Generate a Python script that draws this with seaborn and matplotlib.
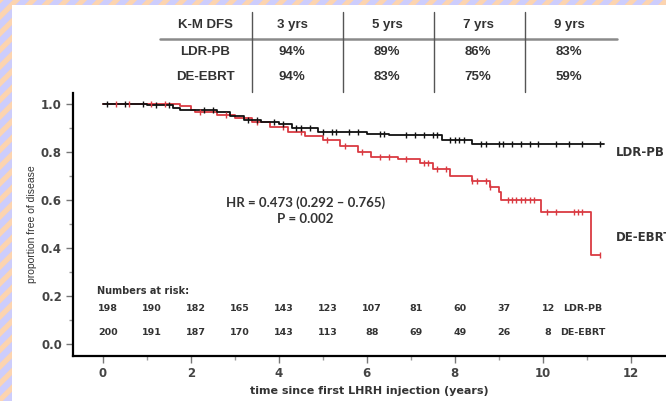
import numpy as np
import pandas as pd
import matplotlib
matplotlib.use("Agg")
import matplotlib.pyplot as plt
import seaborn as sns
from matplotlib.patches import Rectangle
from matplotlib.lines import Line2D
from matplotlib.ticker import MultipleLocator

# K-M step points (time in years, proportion free of disease)
ldr_t = [0, 1.0, 1.6, 1.75, 2.6, 2.9, 3.2, 3.6, 4.0, 4.3, 4.9, 6.0, 6.5, 7.7, 8.4, 11.4]
ldr_s = [1.0, 0.995, 0.985, 0.975, 0.965, 0.95, 0.935, 0.925, 0.915, 0.90, 0.885, 0.875, 0.87, 0.85, 0.835, 0.835]
ebrt_t = [0, 1.75, 2.0, 2.1, 2.6, 3.0, 3.4, 3.8, 4.2, 4.6, 5.0, 5.4, 5.8, 6.1, 6.7, 7.2, 7.5,
          7.9, 8.4, 8.8, 9.0, 9.05, 9.95, 11.1, 11.3]
ebrt_s = [1.0, 0.99, 0.975, 0.965, 0.955, 0.94, 0.925, 0.905, 0.885, 0.865, 0.85, 0.825, 0.80,
          0.78, 0.77, 0.755, 0.73, 0.70, 0.68, 0.655, 0.635, 0.60, 0.55, 0.37, 0.37]

# censoring marks
ldr_cens = [0.1, 0.5, 0.9, 1.2, 1.5, 2.3, 2.5, 3.3, 3.5, 3.9, 4.1, 4.4, 4.5, 4.7, 5.0, 5.2, 5.3,
            5.6, 5.8, 6.3, 6.4, 6.9, 7.1, 7.3, 7.5, 7.6, 7.9, 8.0, 8.1, 8.2, 8.6, 8.7, 9.0, 9.1,
            9.3, 9.5, 9.7, 9.9, 10.3, 10.6, 10.9, 11.3]
ebrt_cens = [0.3, 0.6, 1.1, 1.4, 2.2, 2.8, 3.5, 4.1, 4.5, 5.1, 5.5, 5.9, 6.3, 6.5, 6.9, 7.3, 7.4,
             7.6, 7.8, 8.4, 8.5, 8.7, 8.8, 9.2, 9.3, 9.4, 9.5, 9.6, 9.7, 9.8, 10.1, 10.3, 10.7,
             10.8, 10.9, 11.3]

# numbers at risk
risk_years = list(range(11))
risk_ldr = [198, 190, 182, 165, 143, 123, 107, 81, 60, 37, 12]
risk_ebrt = [200, 191, 187, 170, 143, 113, 88, 69, 49, 26, 8]

# K-M DFS table
tbl_cols = ["K-M DFS", "3 yrs", "5 yrs", "7 yrs", "9 yrs"]
tbl_ldr = ["LDR-PB", "94%", "89%", "86%", "83%"]
tbl_ebrt = ["DE-EBRT", "94%", "83%", "75%", "59%"]

W, H = 666, 401
plt.rcParams["hatch.linewidth"] = 3.8
sns.set_theme(style="ticks")
plt.rcParams["font.family"] = ["DejaVu Sans"]

fig = plt.figure(figsize=(W / 100, H / 100), dpi=100)
# striped frame + white panel
fig.add_artist(Rectangle((0, 0), 1, 1, transform=fig.transFigure, facecolor="#cdcdfc",
                         edgecolor="#fcd4b0", hatch="//", lw=0, zorder=-10))
fig.add_artist(Rectangle((12 / W, 0), 1, 1 - 5 / H, transform=fig.transFigure,
                         facecolor="white", lw=0, zorder=-9))

def px(x, y):
    return x / W, 1 - y / H

ax = fig.add_axes([73 / W, 45 / H, 1 - 73 / W, (356 - 93) / H])
ax.set_facecolor("none")

def step_at(ts, ss, times):
    idx = np.searchsorted(ts, times, side="right") - 1
    return np.asarray(ss)[idx]

curves = pd.concat([
    pd.DataFrame({"t": ebrt_t, "s": ebrt_s, "arm": "DE-EBRT"}),
    pd.DataFrame({"t": ldr_t, "s": ldr_s, "arm": "LDR-PB"}),
])
cens = pd.concat([
    pd.DataFrame({"t": ebrt_cens, "s": step_at(ebrt_t, ebrt_s, ebrt_cens), "arm": "DE-EBRT"}),
    pd.DataFrame({"t": ldr_cens, "s": step_at(ldr_t, ldr_s, ldr_cens), "arm": "LDR-PB"}),
])
pal = {"DE-EBRT": "#da3a42", "LDR-PB": "#111111"}

sns.lineplot(data=curves, x="t", y="s", hue="arm", palette=pal, drawstyle="steps-post",
             lw=1.3, legend=False, ax=ax, estimator=None)
for arm, d in cens.groupby("arm", sort=False):
    ax.plot(d["t"], d["s"], ls="none", marker="|", ms=5, mew=1.0, color=pal[arm])

ax.set_xlim(-0.68, 12.8)
ax.set_ylim(-0.05, 1.046)
ax.set_xticks(range(0, 13, 2))
ax.set_yticks(np.arange(0, 1.01, 0.2))
ax.set_yticklabels([f"{v:.1f}" for v in np.arange(0, 1.01, 0.2)])
ax.xaxis.set_minor_locator(MultipleLocator(1))
ax.yaxis.set_minor_locator(MultipleLocator(0.1))
ax.tick_params(which="major", length=5, width=1, color="#777", labelsize=8.5, labelcolor="#444", pad=3)
ax.tick_params(which="minor", length=3, width=1, color="#999")
for lbl in ax.get_xticklabels() + ax.get_yticklabels():
    lbl.set_fontweight("bold")
sns.despine(ax=ax)
for s in ["left", "bottom"]:
    ax.spines[s].set_linewidth(1.6)
    ax.spines[s].set_color("black")

ax.set_xlabel("time since first LHRH injection (years)", fontsize=8, fontweight="bold",
              color="#333", labelpad=4)
ax.set_ylabel("proportion free of disease", fontsize=7.5, color="#333", labelpad=3,
              family="Liberation Sans")

# curve labels (the DE-EBRT one runs off the right edge, as in the source image)
ax.text(11.65, 0.80, "LDR-PB", fontsize=8.5, fontweight="bold", color="#333", va="center", clip_on=False)
ax.text(11.65, 0.445, "DE-EBRT", fontsize=8.5, fontweight="bold", color="#333", va="center", clip_on=False)

# hazard ratio
ax.text(4.6, 0.59, "HR = 0.473 (0.292 \u2013 0.765)", fontsize=9.5, fontweight="bold",
        color="#333", ha="center", va="center", family="Lato")
ax.text(4.6, 0.522, "P = 0.002", fontsize=9.5, fontweight="bold", color="#333",
        ha="center", va="center", family="Lato")

# numbers at risk
ax.text(-0.14, 0.22, "Numbers at risk:", fontsize=7, fontweight="bold", color="#333", va="center")
for yr, a, b in zip(risk_years, risk_ldr, risk_ebrt):
    ax.text(yr + 0.12, 0.146, str(a), fontsize=6.8, fontweight="bold", color="#333", ha="center", va="center")
    ax.text(yr + 0.12, 0.046, str(b), fontsize=6.8, fontweight="bold", color="#333", ha="center", va="center")
ax.text(10.9, 0.146, "LDR-PB", fontsize=6.8, fontweight="bold", color="#333", ha="center", va="center")
ax.text(10.9, 0.046, "DE-EBRT", fontsize=6.8, fontweight="bold", color="#333", ha="center", va="center")

# table on top
col_x = [205, 292, 387, 478, 569]
row_y = [25, 52, 77]
for row, yy in zip([tbl_cols, tbl_ldr, tbl_ebrt], row_y):
    for txt, xx in zip(row, col_x):
        fig.text(*px(xx, yy), txt, fontsize=9.5, fontweight="bold", color="#333",
                 ha="center", va="center", family="Liberation Sans")
x0, y0 = px(160, 39)
x1, _ = px(617, 39)
fig.add_artist(Line2D([x0, x1], [y0, y0], transform=fig.transFigure, color="#8a8a8a", lw=1.8))
for vx in [252, 343, 434, 525]:
    fx, fy0 = px(vx, 12)
    _, fy1 = px(vx, 92)
    fig.add_artist(Line2D([fx, fx], [fy0, fy1], transform=fig.transFigure, color="#555", lw=1.0))

fig.savefig("out.png", dpi=100)
